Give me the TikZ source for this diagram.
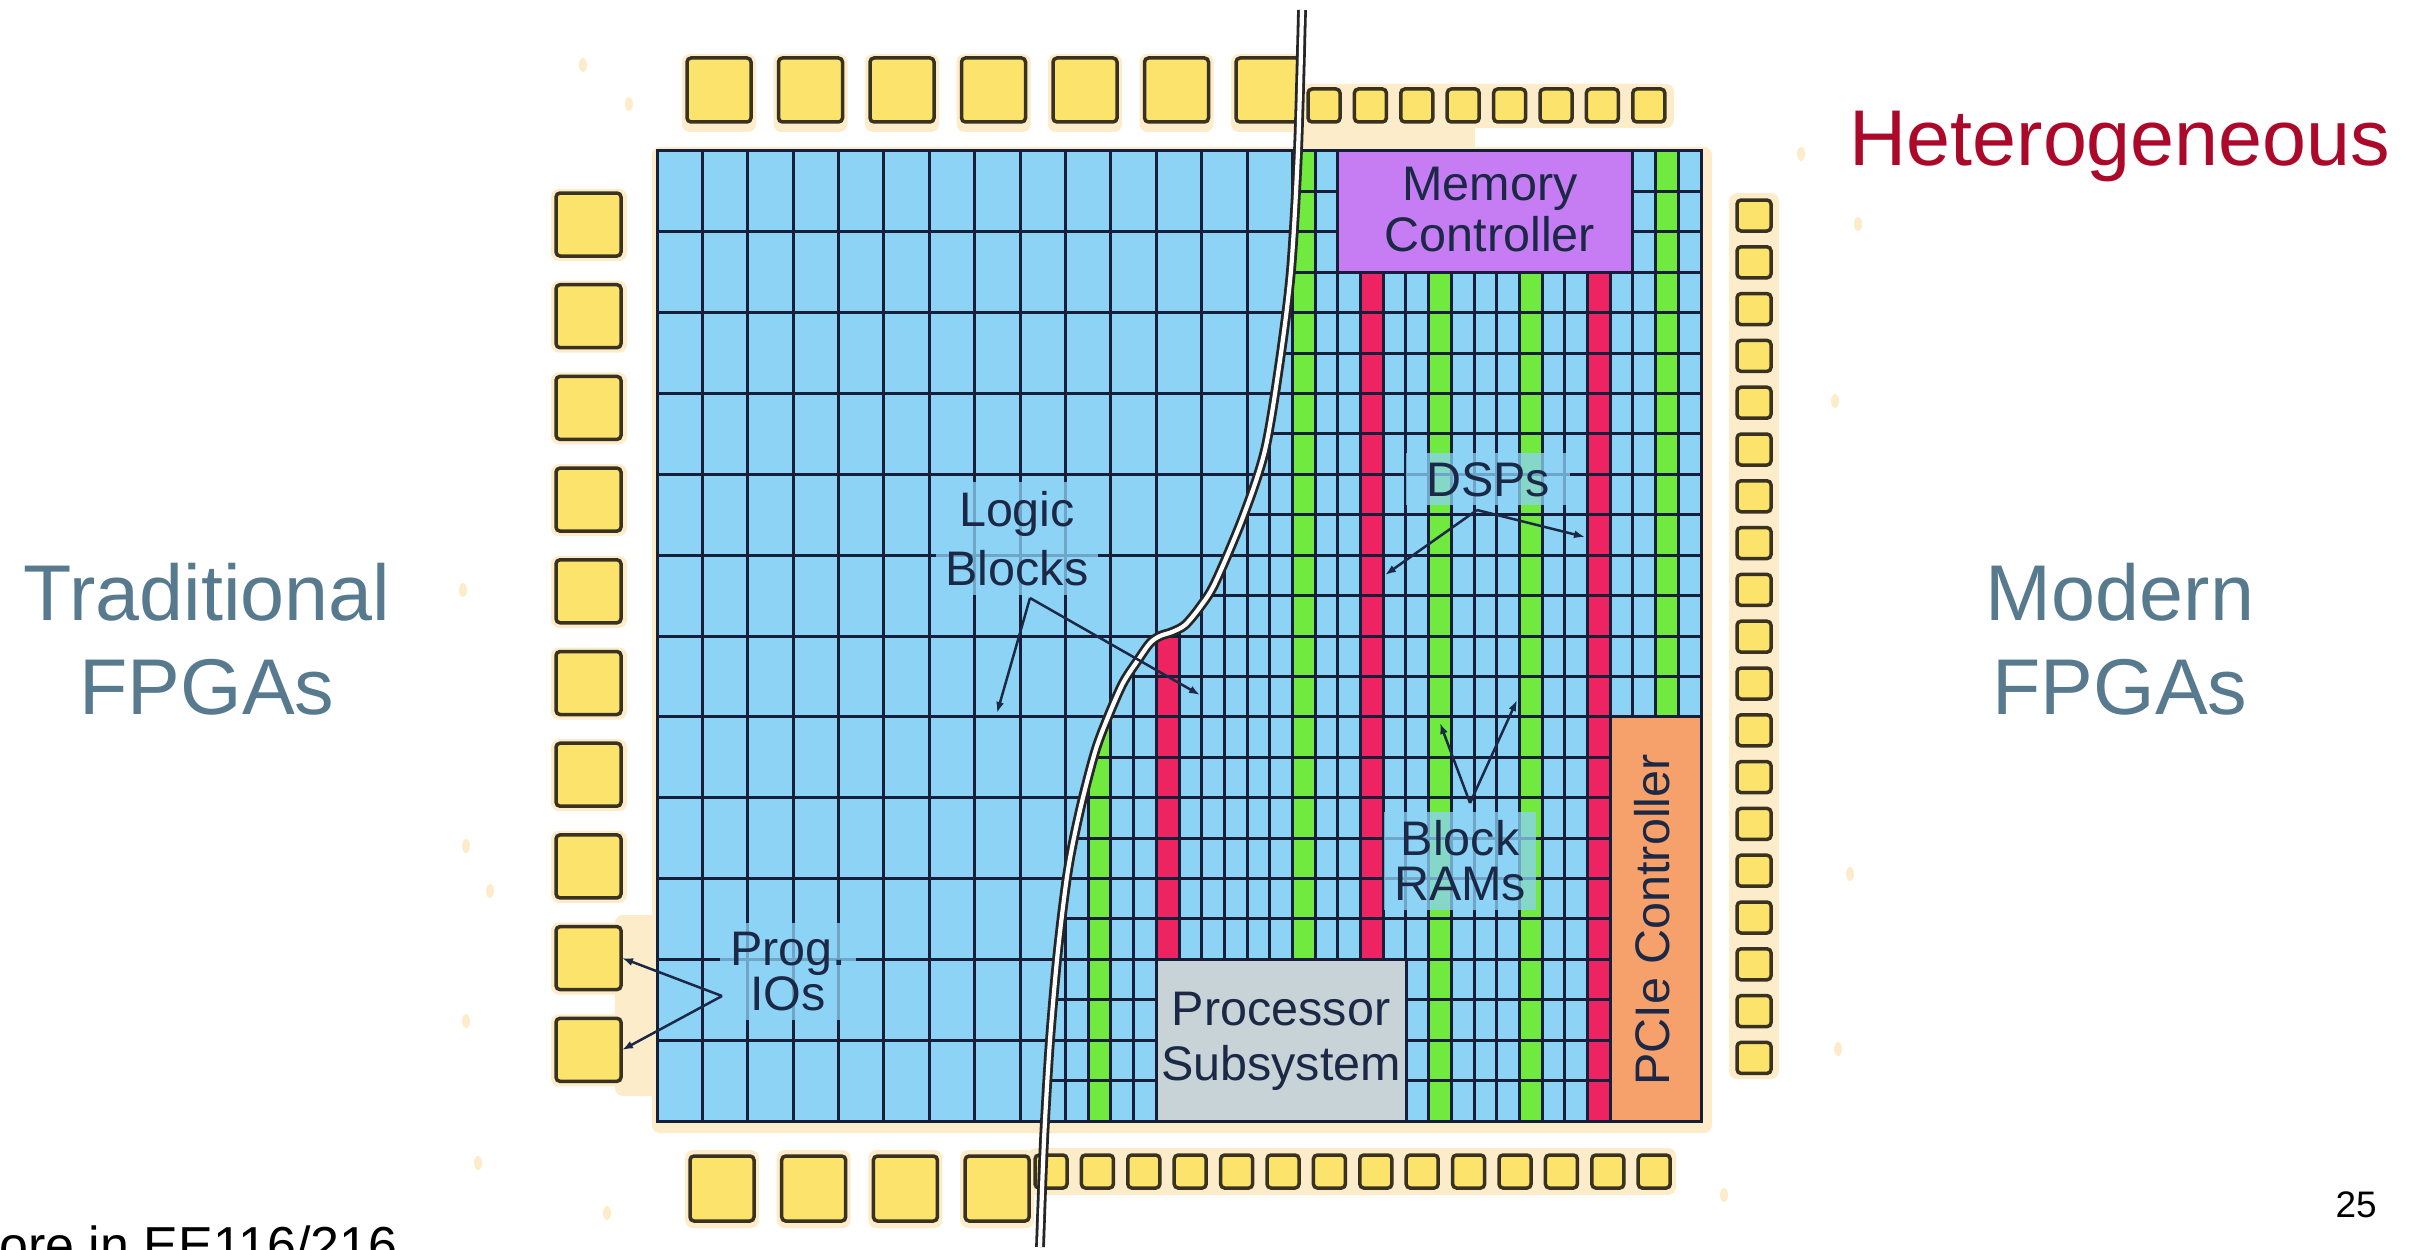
\documentclass[tikz,border=0pt]{standalone}
\usepackage{fontspec}
\setmainfont{Liberation Sans}
\usepackage{xcolor}
\usepackage{tikz}
\usetikzlibrary{calc}
\usetikzlibrary{arrows}
\usetikzlibrary{arrows.meta}
\usetikzlibrary{positioning}

\definecolor{cellblue}{RGB}{141,211,246}
\definecolor{gridink}{RGB}{22,30,58}
\definecolor{dspred}{RGB}{238,36,98}
\definecolor{bramgreen}{RGB}{112,234,62}
\definecolor{memviolet}{RGB}{198,125,244}
\definecolor{pcieorange}{RGB}{246,161,108}
\definecolor{cpugray}{RGB}{199,211,215}
\definecolor{padyellow}{RGB}{252,228,108}
\definecolor{padedge}{RGB}{58,50,32}
\definecolor{haze}{RGB}{253,236,202}
\definecolor{hetred}{RGB}{172,8,42}
\definecolor{sideink}{RGB}{88,122,142}
\definecolor{labelink}{RGB}{27,40,70}

\tikzset{>=latex}
\tikzstyle{gridline} = [draw=gridink, line width=.3mm]
\tikzstyle{pad} = [fill=padyellow, draw=padedge, line width=.35mm, rounded corners=.4mm]
\tikzstyle{halo} = [fill=haze, rounded corners=.8mm]
\tikzstyle{block} = [draw=gridink, line width=.3mm]
\tikzstyle{ptr} = [-{Latex[length=1.1mm, width=.8mm]}, draw=labelink, line width=.25mm]
\tikzstyle{seam} = [draw=black!85, line width=.28mm, double=white, double distance=.42mm]
\tikzstyle{bigtext} = [font=\fontsize{22.5}{27}\selectfont, inner sep=0]
\tikzset{blocktext/.style={font=\fontsize{13.8}{#1}\selectfont, text=labelink, align=center, inner sep=0}}
\tikzset{tag/.style={font=\fontsize{13.8}{#1}\selectfont, text=labelink, align=center,
  fill=cellblue, fill opacity=.75, text opacity=1, inner xsep=1mm, inner ysep=.9mm}}

\begin{document}
\begin{tikzpicture}[x=.1mm, y=-.1mm]
\useasboundingbox (0,0) rectangle (2418,1249);
\fill[white] (0,0) rectangle (2418,1249);

% cream smudges under the pads and the die
\fill[halo] (652,147) rectangle (1712,1133);
\fill[halo] (1296,84) rectangle (1674,128);
\fill[haze] (1296,120) rectangle (1475,152);
\fill[halo] (1729,193) rectangle (1779,1079);
\fill[halo] (1028,1148) rectangle (1676,1195);
\fill[halo] (615,915) rectangle (660,1096);
\foreach \i in {0,...,6} \fill[halo] ({682+91.5*\i},54) rectangle ++(74,78);
\foreach \i in {0,...,9} \fill[halo] (551,{189+91.7*\i}) rectangle ++(76,72);
\foreach \i in {0,...,3} \fill[halo] ({685+91.7*\i},1150) rectangle ++(74,78);
\foreach \p in {(583,65),(629,104),(463,590),(466,846),(490,891),(466,1021),(478,1163),
  (1801,154),(1858,224),(1835,401),(1850,874),(1838,1049),(1724,1195),(607,1213)}
  \fill[haze] \p ellipse [x radius=.4mm, y radius=.7mm];

% I/O pads
\foreach \i in {0,...,6} \draw[pad] ({687+91.5*\i},58) rectangle ++(64,64);
\foreach \i in {0,...,7} \draw[pad] ({1308+46.4*\i},89) rectangle ++(32,33);
\foreach \i in {0,...,9} \draw[pad] (556,{193+91.7*\i}) rectangle ++(65,63);
\foreach \i in {0,...,18} \draw[pad] (1737,{200+46.8*\i}) rectangle ++(34,31);
\foreach \i in {0,...,3} \draw[pad] ({690+91.7*\i},1156) rectangle ++(64,65);
\foreach \i in {0,...,13} \draw[pad] ({1035+46.4*\i},1155) rectangle ++(32,33);

% coarse fabric
\fill[cellblue] (657,151) rectangle (1701,1121);
\foreach \i in {1,...,22} \draw[gridline] ({657+45.391*\i},151) -- ++(0,970);
\foreach \j in {1,...,11} \draw[gridline] (657,{151+80.833*\j}) -- ++(1044,0);

% fine fabric right of the cut
\begin{scope}
\clip plot[smooth, tension=.5] coordinates {(1302,10) (1298,150) (1291,270) (1280,360)
  (1265,450) (1243,517) (1215,583) (1200,607) (1185,625) (1172,632) (1160,636) (1150,643)
  (1138,660) (1123,683) (1108,717) (1095,752) (1080,810) (1068,870) (1058,950)
  (1050,1040) (1044,1140) (1040,1247)} -- (1040,1300) -- (1800,1300) -- (1800,-50)
  -- (1302,-50) -- cycle;
\fill[bramgreen] (1088.2,151) rectangle (1110.9,1121);
\fill[dspred] (1156.3,151) rectangle (1179.0,959.3);
\fill[bramgreen] (1292.5,151) rectangle (1315.2,959.3);
\fill[dspred] (1360.6,151) rectangle (1383.3,959.3);
\fill[bramgreen] (1428.7,151) rectangle (1451.4,1121);
\fill[bramgreen] (1519.5,151) rectangle (1542.2,1121);
\fill[dspred] (1587.5,151) rectangle (1610.2,1121);
\fill[bramgreen] (1655.6,151) rectangle (1678.3,716.9);
\foreach \i in {1,...,45} \draw[gridline] ({657+22.696*\i},151) -- ++(0,970);
\foreach \j in {1,...,23} \draw[gridline] (657,{151+40.417*\j}) -- ++(1044,0);
\end{scope}

% hard blocks
\draw[block, fill=memviolet] (1337.9,151) rectangle (1632.9,272.3);
\draw[block, fill=cpugray] (1156.3,959.3) rectangle (1406,1121);
\draw[block, fill=pcieorange] (1610.2,716.9) rectangle (1701,1121);
\node[blocktext=14.5pt] (memctl) at (1490,209.5) {Memory\\Controller};
\node[blocktext=15.6pt] (cpu) at (1281,1041.3) {Processor\\Subsystem};
\node[blocktext=14pt, rotate=90, anchor=base] (pcie) at (1669,920) {PCIe Controller};
\draw[block] (657,151) rectangle (1701,1121);

% the cut between old and new fabric
\draw[seam] plot[smooth, tension=.5] coordinates {(1302,10) (1298,150) (1291,270) (1280,360)
  (1265,450) (1243,517) (1215,583) (1200,607) (1185,625) (1172,632) (1160,636) (1150,643)
  (1138,660) (1123,683) (1108,717) (1095,752) (1080,810) (1068,870) (1058,950)
  (1050,1040) (1044,1140) (1040,1247)};

% callouts
\node[tag=16.8pt] (logic) at (1017,538.5) {Logic\\Blocks};
\node[tag=14pt, anchor=base, inner xsep=2mm] (dsp) at (1488,496) {DSPs};
\node[tag=12.8pt] (bram) at (1460,861) {Block\\RAMs};
\node[tag=12.6pt] (progio) at (788,971.5) {Prog.\\IOs};

\coordinate (lbtip) at (1030,598);
\coordinate (lb1) at (997,713);
\coordinate (lb2) at (1200,695);
\coordinate (dsptip) at (1477,510);
\coordinate (dsp1) at (1385,575);
\coordinate (dsp2) at (1585,537);
\coordinate (bramtip) at (1470,803);
\coordinate (bram1) at (1440,723);
\coordinate (bram2) at (1517,700);
\coordinate (iotip) at (722,996);
\coordinate (io1) at (622,958);
\coordinate (io2) at (622,1050);
\draw[ptr] (lbtip) -- (lb1);
\draw[ptr] (lbtip) -- (lb2);
\draw[ptr] (dsptip) -- (dsp1);
\draw[ptr] (dsptip) -- (dsp2);
\draw[ptr] (bramtip) -- (bram1);
\draw[ptr] (bramtip) -- (bram2);
\draw[ptr] (iotip) -- (io1);
\draw[ptr] (iotip) -- (io2);

% slide text
\node[bigtext, text=sideink, anchor=base] (trad) at (207,620) {Traditional};
\node[bigtext, text=sideink, anchor=base] (tradfpga) at (207,714) {FPGAs};
\node[bigtext, text=sideink, anchor=base] (modern) at (2120,620) {Modern};
\node[bigtext, text=sideink, anchor=base] (modfpga) at (2120,714) {FPGAs};
\node[bigtext, text=hetred, anchor=base] (het) at (2120,166) {Heterogeneous};
\node[font=\fontsize{10.5}{12}\selectfont, inner sep=0, anchor=base] (pgno) at (2356,1217) {25};
\node[font=\fontsize{14.8}{17}\selectfont, inner sep=0, anchor=base east] (more) at (398,1263) {More in EE116/216};
\end{tikzpicture}
\end{document}
